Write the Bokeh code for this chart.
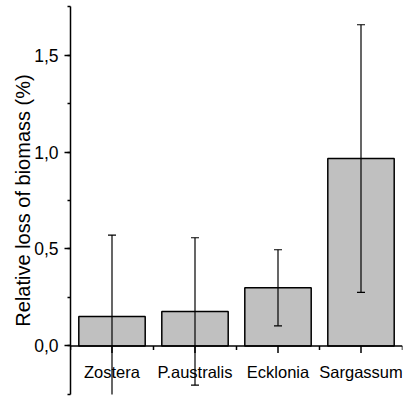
import numpy as np
from bokeh.plotting import figure
from bokeh.models import Range1d, SingleIntervalTicker, CustomJSTickFormatter, Span
from bokeh.core.properties import value
from bokeh.embed import file_html
from bokeh.resources import INLINE

# ---- data ----
categories = ["Zostera", "P.australis", "Ecklonia", "Sargassum"]
loss = [0.152, 0.178, 0.300, 0.966]
err = [0.42, 0.38, 0.196, 0.69]
y_min, y_max = -0.25, 1.75

FONT = "Liberation Sans"
W, H = 404, 396
B_LEFT, B_RIGHT, B_TOP, B_BOTTOM = 70, 2, 6, 2

n = len(categories)
pad = 1e-4
p = figure(width=W, height=H,
           x_range=Range1d(0, n), y_range=Range1d(y_min - pad, y_max + pad),
           output_backend="svg", toolbar_location=None, x_axis_location=None,
           min_border_left=B_LEFT, min_border_right=B_RIGHT,
           min_border_top=B_TOP, min_border_bottom=B_BOTTOM)
p.outline_line_color = None
p.xgrid.visible = False
p.ygrid.visible = False
p.background_fill_color = "white"

frame_h = H - B_TOP - B_BOTTOM
px = frame_h / ((y_max + pad) - (y_min - pad))  # pixels per data unit

centers = [i + 0.5 for i in range(n)]
lower = [v - e for v, e in zip(loss, err)]
upper = [v + e for v, e in zip(loss, err)]

# bars
p.vbar(x=centers, top=loss, bottom=0, width=0.8, fill_color="#c0c0c0",
       line_color="black", line_width=1.5)

# error bars
p.segment(x0=centers, y0=lower, x1=centers, y1=upper, line_color="black", line_width=1.2)
p.scatter(x=centers + centers, y=lower + upper, marker="dash", size=8,
          line_color="black", line_width=1.2)

# x axis line at zero with ticks
p.add_layout(Span(location=0, dimension="width", line_color="black", line_width=1.5))
p.segment(x0=centers, y0=[0] * n, x1=centers, y1=[-7 / px] * n,
          line_color="black", line_width=1.5)
bounds = list(range(n + 1))
p.segment(x0=bounds, y0=[0] * (n + 1), x1=bounds, y1=[-4 / px] * (n + 1),
          line_color="black", line_width=1.5)

# category labels
p.text(x=centers, y=[0] * n, text=categories, text_align="center",
       text_baseline="alphabetic", y_offset=26, text_font=value(FONT),
       text_font_size="16.5px", text_color="black")

# y axis
ax = p.yaxis[0]
ax.ticker = SingleIntervalTicker(interval=0.5, num_minor_ticks=2)
ax.formatter = CustomJSTickFormatter(code="return tick.toFixed(1).replace('.', ',');")
ax.axis_line_width = 1.5
ax.axis_line_color = "black"
ax.major_tick_out = 6
ax.major_tick_in = 0
ax.minor_tick_out = 3
ax.minor_tick_in = 0
ax.major_tick_line_width = 1.5
ax.minor_tick_line_width = 1.5
ax.major_tick_line_color = "black"
ax.minor_tick_line_color = "black"
ax.major_label_standoff = 6
ax.major_label_text_font = FONT
ax.major_label_text_font_size = "17.5px"
ax.major_label_text_color = "black"
ax.axis_label = "Relative loss of biomass (%)"
ax.axis_label_text_font = FONT
ax.axis_label_text_font_size = "20px"
ax.axis_label_text_font_style = "normal"
ax.axis_label_text_color = "black"
ax.axis_label_standoff = -3

open("out.html", "w").write(file_html(p, INLINE))
